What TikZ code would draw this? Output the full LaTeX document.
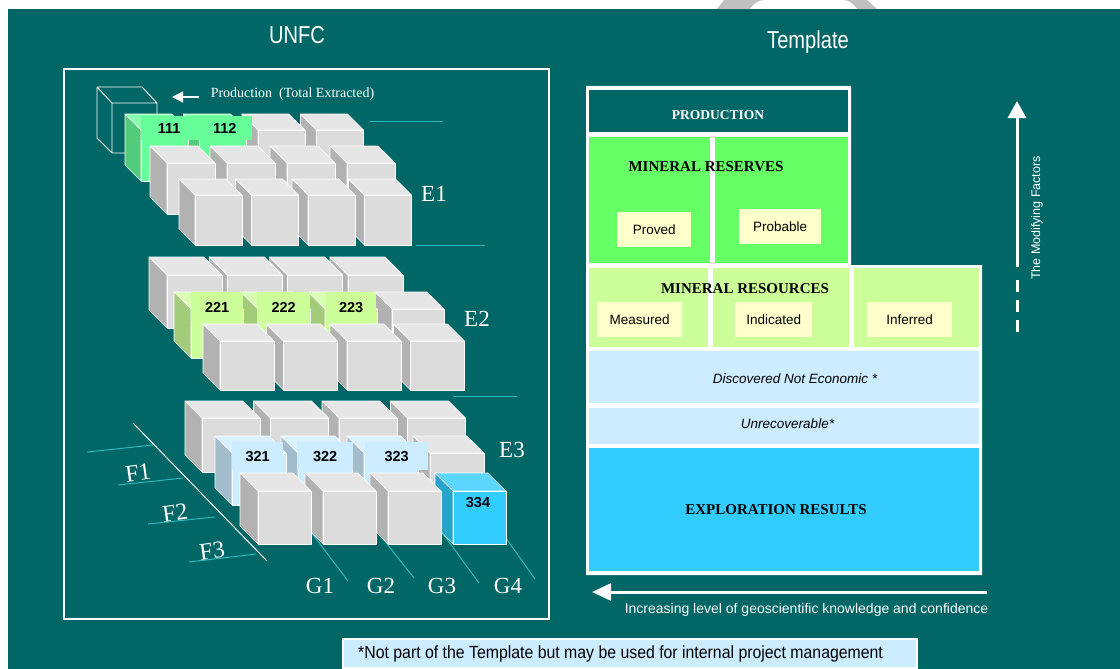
\documentclass[tikz,border=0pt]{standalone}
\usepackage{fontspec}
\setmainfont{Liberation Serif}
\setsansfont{Liberation Sans}
\newfontfamily\narrowsans[FakeStretch=0.82]{Liberation Sans}
\newfontfamily\notesans[FakeStretch=0.9]{Liberation Sans}
\usetikzlibrary{arrows.meta}

\definecolor{bgteal}{HTML}{006666}
\definecolor{wmgrey}{HTML}{C0C0C0}
\definecolor{guide}{HTML}{2EB8B8}
% cube face colours: F front, T top, L left side
\definecolor{cgF}{HTML}{DCDCDC}
\definecolor{cgT}{HTML}{E6E6E6}
\definecolor{cgL}{HTML}{B2B2B2}
\definecolor{cgrF}{HTML}{66FF99}
\definecolor{cgrT}{HTML}{85FFAD}
\definecolor{cgrL}{HTML}{52CC7A}
\definecolor{clmF}{HTML}{CCFF99}
\definecolor{clmT}{HTML}{D9FFB3}
\definecolor{clmL}{HTML}{A3CC7A}
\definecolor{cskF}{HTML}{CCECFF}
\definecolor{cskT}{HTML}{D9F1FF}
\definecolor{cskL}{HTML}{A3BDCC}
\definecolor{ccyF}{HTML}{33CCFF}
\definecolor{ccyT}{HTML}{5CD6FF}
\definecolor{ccyL}{HTML}{29A3CC}
% template colours
\definecolor{reserve}{HTML}{66FF66}
\definecolor{resource}{HTML}{CCFF99}
\definecolor{paleblue}{HTML}{CCECFF}
\definecolor{explore}{HTML}{33CCFF}
\definecolor{paleyellow}{HTML}{FFFFCC}

\tikzset{
  cubeedge/.style={draw=white, line width=0.7pt, line join=round},
  guideline/.style={draw=guide, line width=1pt},
  title/.style={text=white, font=\narrowsans\fontsize{24.5}{24.5}\selectfont, inner sep=0pt, anchor=base},
  axislab/.style={text=white, font=\fontsize{23}{23}\selectfont, inner sep=0pt, anchor=base},
  flab/.style={text=white, font=\fontsize{24}{24}\selectfont, inner sep=0pt, rotate=8},
  cubelab/.style={font=\sffamily\bfseries\fontsize{14.5}{14.5}\selectfont, inner sep=0pt, text=black, anchor=north west},
  head/.style={font=\bfseries\fontsize{15}{15}\selectfont, inner sep=0pt, anchor=base, text=black},
  grade/.style={fill=paleyellow, font=\sffamily\fontsize{13.5}{13.5}\selectfont, inner sep=0pt, anchor=north west, text=black},
  note/.style={font=\sffamily\itshape\fontsize{13.5}{13.5}\selectfont, inner sep=0pt, anchor=base, text=black},
  whitearrow/.style={draw=white, line width=3pt},
}

% one cube: front top-left corner (#1,#2), width #3, height #4, depth #5, colour set #6
\newcommand{\ucube}[6]{%
  \filldraw[cubeedge, fill=#6L] ({#1-#5},{#2-#5}) -- ({#1},{#2}) -- ({#1},{#2+#4}) -- ({#1-#5},{#2+#4-#5}) -- cycle;
  \filldraw[cubeedge, fill=#6T] ({#1-#5},{#2-#5}) -- ({#1+#3-#5},{#2-#5}) -- ({#1+#3},{#2}) -- ({#1},{#2}) -- cycle;
  \filldraw[cubeedge, fill=#6F] ({#1},{#2}) rectangle ({#1+#3},{#2+#4});
}
% a row of cubes: first front corner (#1,#2), pitch #3, size #4 x #5, depth #6, list index/colour set
\newcommand{\urow}[7]{%
  \foreach \gi/\kol in {#7}{\ucube{#1+\gi*#3}{#2}{#4}{#5}{#6}{\kol}}%
}

\begin{document}
\begin{tikzpicture}[x=1pt, y=-1pt]
\useasboundingbox (0,0) rectangle (1120,669);

% page background
\fill[white] (0,0) rectangle (1120,669);
\fill[bgteal] (8,9) rectangle (1120,669);
\fill[wmgrey] (717,9) -- (877,9) -- (867,0) -- (724,0) -- cycle;
\fill[white] (750,9) .. controls (755,2) and (760,0) .. (765,0) -- (843,0) .. controls (848,0) and (853,3) .. (857,9) -- cycle;

% headings
\node[title] (unfc) at (297,44) {UNFC};
\node[title] (tpl) at (808,48.5) {Template};

% ---------------- UNFC cube block ----------------
\draw[white, line width=2.5pt] (64,69) rectangle (549,619);

% guide lines
\draw[guideline] (370,121) -- (443,121);
\draw[guideline] (416,245) -- (485,245);
\draw[guideline] (453,396) -- (517,396);
\draw[guideline] (87,452) -- (153,445);
\draw[guideline] (118,485) -- (183,478);
\draw[guideline] (148,524) -- (215,517);
\draw[guideline] (189,562) -- (256,554);
\draw[white, line width=1pt] (133,423) -- (267,561);
\draw[guideline] (305,524) -- (348,581);
\draw[guideline] (376,530) -- (414,578);
\draw[guideline] (441,531) -- (479,583);
\draw[guideline] (503,534) -- (535,579);

% extracted quantity: open cube
\coordinate (oA) at (97,87);  \coordinate (oB) at (142,87);
\coordinate (oC) at (112,103); \coordinate (oD) at (157,103);
\coordinate (oE) at (97,138); \coordinate (oF) at (112,153);
\coordinate (oG) at (157,153);
\draw[white, line width=0.9pt, line join=round]
  (oE) -- (oA) -- (oB) -- (oD) -- (oC) -- (oA) (oC) -- (oF) -- (oE) (oF) -- (oG) -- (oD);
\coordinate (prodtail) at (199,97);
\coordinate (prodhead) at (172,97);
\draw[white, line width=1.3pt, -{Triangle[length=11pt, width=11pt]}] (prodtail) -- (prodhead);
\node[text=white, font=\fontsize{14}{14}\selectfont, inner sep=0pt, anchor=base] (prodtxt) at (292.5,97) {Production\ \ (Total Extracted)};

% E1
\urow{141}{130}{58.5}{47}{51}{16}{3/cg,2/cg,1/cgr,0/cgr}
\node[cubelab, fill=cgrF, minimum width=56pt, minimum height=24pt] (c111) at (141,116) {111};
\node[cubelab, fill=cgrF, minimum width=55pt, minimum height=24pt] (c112) at (197,116) {112};
\urow{167}{163}{60}{48}{51}{17}{3/cg,2/cg,1/cg,0/cg}
\urow{195}{195}{56.5}{47}{50}{16}{3/cg,2/cg,1/cg,0/cg}
\node[axislab] (e1) at (434,201) {E1};

% E2
\urow{167}{275}{60.3}{55}{53}{18}{3/cg,2/cg,1/cg,0/cg}
\urow{191}{309}{67}{52}{49}{17}{3/cg,2/clm,1/clm,0/clm}
\node[cubelab, fill=clmF, minimum width=52pt, minimum height=30pt] (c221) at (191,292) {221};
\node[cubelab, fill=clmF, minimum width=53pt, minimum height=30pt] (c222) at (257,292) {222};
\node[cubelab, fill=clmF, minimum width=50pt, minimum height=30pt] (c223) at (326,292) {223};
\urow{220}{341}{63.5}{54}{49}{17}{3/cg,2/cg,1/cg,0/cg}
\node[axislab] (e2) at (477,326) {E2};

% E3
\urow{202}{418}{68.5}{58}{54}{17}{3/cg,2/cg,1/cg,0/cg}
\urow{232}{453}{66}{54}{52}{17}{3/cg,2/csk,1/csk,0/csk}
\node[cubelab, fill=cskF, minimum width=51pt, minimum height=28pt] (c321) at (232,442) {321};
\node[cubelab, fill=cskF, minimum width=56pt, minimum height=28pt] (c322) at (297,442) {322};
\node[cubelab, fill=cskF, minimum width=63pt, minimum height=28pt] (c323) at (365,442) {323};
\urow{258}{491}{65}{53}{53}{18}{3/ccy,2/cg,1/cg,0/cg}
\node[font=\sffamily\bfseries\fontsize{14.5}{14.5}\selectfont, inner sep=0pt, anchor=base] (c334) at (478,507) {334};
\node[axislab] (e3) at (512,457) {E3};

% axis labels
\node[flab] (f1) at (138,473) {F1};
\node[flab] (f2) at (175,513) {F2};
\node[flab] (f3) at (212,551) {F3};
\node[axislab] (g1) at (320,593) {G1};
\node[axislab] (g2) at (381,593) {G2};
\node[axislab] (g3) at (442,593) {G3};
\node[axislab] (g4) at (508,593) {G4};

% ---------------- Template ----------------
\fill[white] (586,86) -- (851,86) -- (851,265) -- (982,265) -- (982,575) -- (586,575) -- cycle;
\fill[bgteal] (589,90) rectangle (848,132);
\fill[reserve] (589,137) rectangle (710,263);
\fill[reserve] (715,137) rectangle (848,263);
\fill[resource] (589,268) rectangle (708,347);
\fill[resource] (713,268) rectangle (849,347);
\fill[resource] (854,268) rectangle (979,347);
\fill[paleblue] (589,351) rectangle (979,403);
\fill[paleblue] (589,408) rectangle (979,444);
\fill[explore] (589,448) rectangle (979,571);

\node[head, text=white, font=\bfseries\fontsize{13.5}{13.5}\selectfont] (prod) at (718,120) {PRODUCTION};
\node[head] (reserves) at (706,171) {MINERAL RESERVES};
\node[grade, minimum width=74pt, minimum height=35pt] (proved) at (617,212) {Proved};
\node[grade, minimum width=82pt, minimum height=35pt] (probable) at (739,209) {Probable};
\node[head] (resources) at (745,293) {MINERAL RESOURCES};
\node[grade, minimum width=85pt, minimum height=35pt] (measured) at (597,302) {Measured};
\node[grade, minimum width=77pt, minimum height=35pt] (indicated) at (735,302) {Indicated};
\node[grade, minimum width=85pt, minimum height=35pt] (inferred) at (867,302) {Inferred};
\node[note] (dne) at (795,383) {Discovered Not Economic *};
\node[note] (unrec) at (787.5,428) {Unrecoverable*};
\node[head] (explor) at (776,514) {EXPLORATION RESULTS};

% knowledge arrow
\coordinate (kright) at (987,592);
\coordinate (kleft) at (592,592);
\draw[whitearrow, -{Triangle[length=19pt, width=17pt]}] (kright) -- (kleft);
\node[text=white, font=\sffamily\fontsize{14}{14}\selectfont, inner sep=0pt, anchor=base] (know) at (806.5,613) {Increasing level of geoscientific knowledge and confidence};

% modifying factors arrow
\coordinate (mbot) at (1017,267);
\coordinate (mtop) at (1017,101);
\coordinate (dtop) at (1017,280);
\coordinate (dbot) at (1017,332);
\draw[whitearrow, -{Triangle[length=17pt, width=18pt]}] (mbot) -- (mtop);
\draw[whitearrow, dash pattern=on 12pt off 8pt] (dtop) -- (dbot);
\node[text=white, font=\sffamily\fontsize{12.5}{12.5}\selectfont, inner sep=0pt, rotate=90] (modf) at (1037,218) {The Modifying Factors};

% footnote
\filldraw[fill=paleblue, draw=white, line width=1.2pt] (343,639) rectangle (917,668);
\node[font=\notesans\fontsize{17.6}{17.6}\selectfont, inner sep=0pt, anchor=base west, text=black] (foot) at (358,658) {*Not part of the Template but may be used for internal project management};

\end{tikzpicture}
\end{document}
